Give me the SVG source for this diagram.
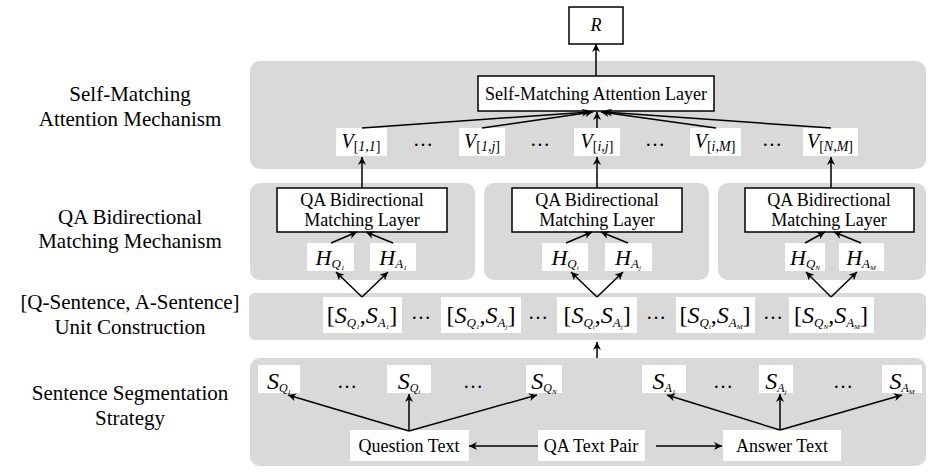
<svg xmlns="http://www.w3.org/2000/svg" width="932" height="472" viewBox="0 0 932 472">
<style>
text{font-family:"Liberation Serif","Times New Roman",serif;fill:#000}
.lbl{font-size:21px;text-anchor:middle}
.t{font-size:18px;text-anchor:middle}
.m{text-anchor:middle}
.i{font-style:italic}
.panel{fill:#d9d9d9}
.wb{fill:#fff}
.box{fill:#fff;stroke:#000;stroke-width:1.5}
.c{stroke:#000;stroke-width:1.5;fill:none;marker-end:url(#ah)}
.dots{font-size:20px;text-anchor:middle}
</style>
<defs>
<marker id="ah" viewBox="0 0 10 10" refX="10" refY="5" markerWidth="10" markerHeight="8" orient="auto" markerUnits="userSpaceOnUse">
<path d="M0,0 L10,5 L0,10 L3,5 z" fill="#000"/>
</marker>
</defs>

<g id="labels">
<text class="lbl" x="130" y="101">Self-Matching</text>
<text class="lbl" x="130" y="126">Attention Mechanism</text>
<text class="lbl" x="130" y="224">QA Bidirectional</text>
<text class="lbl" x="130" y="248">Matching Mechanism</text>
<text class="lbl" x="130" y="309">[Q-Sentence, A-Sentence]</text>
<text class="lbl" x="130" y="334">Unit Construction</text>
<text class="lbl" x="130" y="400">Sentence Segmentation</text>
<text class="lbl" x="130" y="425">Strategy</text>
</g>

<g id="panels">
<rect class="panel" x="250" y="61" width="676" height="108" rx="10"/>
<rect class="panel" x="250" y="183" width="225" height="97" rx="10"/>
<rect class="panel" x="484" y="183" width="225" height="97" rx="10"/>
<rect class="panel" x="718" y="183" width="208" height="97" rx="10"/>
<rect class="panel" x="249" y="293" width="677" height="47" rx="6"/>
<rect class="panel" x="250" y="358" width="676" height="108" rx="10"/>
</g>

<g id="R">
<rect class="box" x="569" y="7" width="54" height="37"/>
<text class="t i" x="596" y="31">R</text>
</g>

<g id="sma">
<rect class="box" x="478" y="76" width="236" height="35"/>
<text class="t" x="596" y="100">Self-Matching Attention Layer</text>
</g>

<g id="V11">
<rect class="wb" x="336" y="128" width="51" height="28"/>
<text class="m" x="361" y="148"><tspan class="i" font-size="20">V</tspan><tspan font-size="14" dy="3">[</tspan><tspan class="i" font-size="14">1</tspan><tspan font-size="14">,</tspan><tspan class="i" font-size="14">1</tspan><tspan font-size="14">]</tspan></text>
</g>
<g id="V1j">
<rect class="wb" x="459" y="128" width="46" height="28"/>
<text class="m" x="482" y="148"><tspan class="i" font-size="20">V</tspan><tspan font-size="14" dy="3">[</tspan><tspan class="i" font-size="14">1</tspan><tspan font-size="14">,</tspan><tspan class="i" font-size="14">j</tspan><tspan font-size="14">]</tspan></text>
</g>
<g id="Vij">
<rect class="wb" x="574" y="128" width="46" height="28"/>
<text class="m" x="597" y="148"><tspan class="i" font-size="20">V</tspan><tspan font-size="14" dy="3">[</tspan><tspan class="i" font-size="14">i</tspan><tspan font-size="14">,</tspan><tspan class="i" font-size="14">j</tspan><tspan font-size="14">]</tspan></text>
</g>
<g id="ViM">
<rect class="wb" x="690" y="128" width="51" height="28"/>
<text class="m" x="715" y="148"><tspan class="i" font-size="20">V</tspan><tspan font-size="14" dy="3">[</tspan><tspan class="i" font-size="14">i</tspan><tspan font-size="14">,</tspan><tspan class="i" font-size="14">M</tspan><tspan font-size="14">]</tspan></text>
</g>
<g id="VNM">
<rect class="wb" x="803" y="128" width="55" height="28"/>
<text class="m" x="830" y="148"><tspan class="i" font-size="20">V</tspan><tspan font-size="14" dy="3">[</tspan><tspan class="i" font-size="14">N</tspan><tspan font-size="14">,</tspan><tspan class="i" font-size="14">M</tspan><tspan font-size="14">]</tspan></text>
</g>
<g id="vdots">
<text class="dots" x="423" y="146">…</text>
<text class="dots" x="540" y="146">…</text>
<text class="dots" x="655" y="146">…</text>
<text class="dots" x="772" y="146">…</text>
</g>

<g id="qa1">
<rect class="box" x="277" y="188" width="170" height="44"/>
<text class="t" x="362" y="206">QA Bidirectional</text>
<text class="t" x="362" y="226">Matching Layer</text>
</g>
<g id="qa2">
<rect class="box" x="512" y="188" width="170" height="44"/>
<text class="t" x="597" y="206">QA Bidirectional</text>
<text class="t" x="597" y="226">Matching Layer</text>
</g>
<g id="qa3">
<rect class="box" x="745" y="188" width="169" height="44"/>
<text class="t" x="829" y="206">QA Bidirectional</text>
<text class="t" x="829" y="226">Matching Layer</text>
</g>

<g id="HQ1">
<rect class="wb" x="307" y="243" width="47" height="28"/>
<text class="m" x="330" y="265"><tspan class="i" font-size="22">H</tspan><tspan class="i" font-size="13" dy="3">Q</tspan><tspan class="i" font-size="7" dy="2">1</tspan></text>
</g>
<g id="HA1">
<rect class="wb" x="370" y="243" width="46" height="28"/>
<text class="m" x="393" y="265"><tspan class="i" font-size="22">H</tspan><tspan class="i" font-size="13" dy="3">A</tspan><tspan class="i" font-size="7" dy="2">1</tspan></text>
</g>
<g id="HQi">
<rect class="wb" x="542" y="243" width="46" height="28"/>
<text class="m" x="565" y="265"><tspan class="i" font-size="22">H</tspan><tspan class="i" font-size="13" dy="3">Q</tspan><tspan class="i" font-size="7" dy="2">i</tspan></text>
</g>
<g id="HAj">
<rect class="wb" x="605" y="243" width="47" height="28"/>
<text class="m" x="628" y="265"><tspan class="i" font-size="22">H</tspan><tspan class="i" font-size="13" dy="3">A</tspan><tspan class="i" font-size="7" dy="2">j</tspan></text>
</g>
<g id="HQN">
<rect class="wb" x="785" y="243" width="40" height="28"/>
<text class="m" x="805" y="265"><tspan class="i" font-size="22">H</tspan><tspan class="i" font-size="13" dy="3">Q</tspan><tspan class="i" font-size="7" dy="2">N</tspan></text>
</g>
<g id="HAM">
<rect class="wb" x="839" y="243" width="45" height="28"/>
<text class="m" x="861" y="265"><tspan class="i" font-size="22">H</tspan><tspan class="i" font-size="13" dy="3">A</tspan><tspan class="i" font-size="7" dy="2">M</tspan></text>
</g>

<g id="U1">
<rect class="wb" x="323" y="297" width="79" height="36"/>
<text class="m" x="362" y="323"><tspan font-size="24">[</tspan><tspan class="i" font-size="24">S</tspan><tspan class="i" font-size="13" dy="4">Q</tspan><tspan class="i" font-size="7" dy="2">1</tspan><tspan font-size="24" dy="-6">,</tspan><tspan class="i" font-size="24">S</tspan><tspan class="i" font-size="13" dy="4">A</tspan><tspan class="i" font-size="7" dy="2">1</tspan><tspan font-size="24" dy="-6">]</tspan></text>
</g>
<g id="U2">
<rect class="wb" x="441" y="297" width="80" height="36"/>
<text class="m" x="481" y="323"><tspan font-size="24">[</tspan><tspan class="i" font-size="24">S</tspan><tspan class="i" font-size="13" dy="4">Q</tspan><tspan class="i" font-size="7" dy="2">1</tspan><tspan font-size="24" dy="-6">,</tspan><tspan class="i" font-size="24">S</tspan><tspan class="i" font-size="13" dy="4">A</tspan><tspan class="i" font-size="7" dy="2">j</tspan><tspan font-size="24" dy="-6">]</tspan></text>
</g>
<g id="U3">
<rect class="wb" x="557" y="297" width="80" height="36"/>
<text class="m" x="597" y="323"><tspan font-size="24">[</tspan><tspan class="i" font-size="24">S</tspan><tspan class="i" font-size="13" dy="4">Q</tspan><tspan class="i" font-size="7" dy="2">i</tspan><tspan font-size="24" dy="-6">,</tspan><tspan class="i" font-size="24">S</tspan><tspan class="i" font-size="13" dy="4">A</tspan><tspan class="i" font-size="7" dy="2">j</tspan><tspan font-size="24" dy="-6">]</tspan></text>
</g>
<g id="U4">
<rect class="wb" x="676" y="297" width="79" height="36"/>
<text class="m" x="715" y="323"><tspan font-size="24">[</tspan><tspan class="i" font-size="24">S</tspan><tspan class="i" font-size="13" dy="4">Q</tspan><tspan class="i" font-size="7" dy="2">i</tspan><tspan font-size="24" dy="-6">,</tspan><tspan class="i" font-size="24">S</tspan><tspan class="i" font-size="13" dy="4">A</tspan><tspan class="i" font-size="7" dy="2">M</tspan><tspan font-size="24" dy="-6">]</tspan></text>
</g>
<g id="U5">
<rect class="wb" x="789" y="297" width="85" height="36"/>
<text class="m" x="831" y="323"><tspan font-size="24">[</tspan><tspan class="i" font-size="24">S</tspan><tspan class="i" font-size="13" dy="4">Q</tspan><tspan class="i" font-size="7" dy="2">N</tspan><tspan font-size="24" dy="-6">,</tspan><tspan class="i" font-size="24">S</tspan><tspan class="i" font-size="13" dy="4">A</tspan><tspan class="i" font-size="7" dy="2">M</tspan><tspan font-size="24" dy="-6">]</tspan></text>
</g>
<g id="udots">
<text class="dots" x="421" y="319">…</text>
<text class="dots" x="538" y="319">…</text>
<text class="dots" x="656" y="319">…</text>
<text class="dots" x="773" y="319">…</text>
</g>

<g id="SQ1">
<rect class="wb" x="258" y="365" width="42" height="28"/>
<text class="m" x="279" y="389"><tspan class="i" font-size="24">S</tspan><tspan class="i" font-size="12" dy="3">Q</tspan><tspan class="i" font-size="7" dy="2">1</tspan></text>
</g>
<g id="SQi">
<rect class="wb" x="387" y="365" width="44" height="28"/>
<text class="m" x="409" y="389"><tspan class="i" font-size="24">S</tspan><tspan class="i" font-size="12" dy="3">Q</tspan><tspan class="i" font-size="7" dy="2">i</tspan></text>
</g>
<g id="SQN">
<rect class="wb" x="526" y="365" width="36" height="28"/>
<text class="m" x="544" y="389"><tspan class="i" font-size="24">S</tspan><tspan class="i" font-size="12" dy="3">Q</tspan><tspan class="i" font-size="7" dy="2">N</tspan></text>
</g>
<g id="SA1">
<rect class="wb" x="642" y="365" width="44" height="28"/>
<text class="m" x="664" y="389"><tspan class="i" font-size="24">S</tspan><tspan class="i" font-size="12" dy="3">A</tspan><tspan class="i" font-size="7" dy="2">1</tspan></text>
</g>
<g id="SAj">
<rect class="wb" x="759" y="365" width="34" height="28"/>
<text class="m" x="776" y="389"><tspan class="i" font-size="24">S</tspan><tspan class="i" font-size="12" dy="3">A</tspan><tspan class="i" font-size="7" dy="2">j</tspan></text>
</g>
<g id="SAM">
<rect class="wb" x="882" y="365" width="40" height="28"/>
<text class="m" x="902" y="389"><tspan class="i" font-size="24">S</tspan><tspan class="i" font-size="12" dy="3">A</tspan><tspan class="i" font-size="7" dy="2">M</tspan></text>
</g>
<g id="sdots">
<text class="dots" x="347" y="388">…</text>
<text class="dots" x="473" y="388">…</text>
<text class="dots" x="723" y="388">…</text>
<text class="dots" x="843" y="388">…</text>
</g>

<g id="qtext">
<rect class="wb" x="350" y="430" width="119" height="31"/>
<text class="t" x="409" y="452">Question Text</text>
</g>
<g id="pair">
<rect class="wb" x="538" y="430" width="107" height="31"/>
<text class="t" x="591" y="452">QA Text Pair</text>
</g>
<g id="atext">
<rect class="wb" x="723" y="430" width="118" height="31"/>
<text class="t" x="782" y="452">Answer Text</text>
</g>

<g id="connectors">
<line class="c" x1="596" y1="76" x2="596" y2="44"/>
<line class="c" x1="362" y1="128" x2="590" y2="112"/>
<line class="c" x1="482" y1="128" x2="593" y2="112"/>
<line class="c" x1="597" y1="128" x2="597" y2="112"/>
<line class="c" x1="716" y1="128" x2="601" y2="112"/>
<line class="c" x1="831" y1="128" x2="604" y2="112"/>
<line class="c" x1="362" y1="188" x2="362" y2="157"/>
<line class="c" x1="597" y1="188" x2="597" y2="157"/>
<line class="c" x1="831" y1="188" x2="831" y2="157"/>
<line class="c" x1="331" y1="243" x2="357" y2="232"/>
<line class="c" x1="393" y1="243" x2="366" y2="232"/>
<line class="c" x1="566" y1="243" x2="592" y2="232"/>
<line class="c" x1="628" y1="243" x2="601" y2="232"/>
<line class="c" x1="805" y1="243" x2="825" y2="232"/>
<line class="c" x1="861" y1="243" x2="834" y2="232"/>
<line class="c" x1="362" y1="297" x2="336" y2="272"/>
<line class="c" x1="362" y1="297" x2="388" y2="272"/>
<line class="c" x1="597" y1="297" x2="571" y2="272"/>
<line class="c" x1="597" y1="297" x2="623" y2="272"/>
<line class="c" x1="831" y1="297" x2="806" y2="272"/>
<line class="c" x1="831" y1="297" x2="857" y2="272"/>
<line class="c" x1="597" y1="358" x2="597" y2="342"/>
<line class="c" x1="409" y1="431" x2="288" y2="395"/>
<line class="c" x1="409" y1="431" x2="409" y2="394"/>
<line class="c" x1="409" y1="431" x2="537" y2="395"/>
<line class="c" x1="780" y1="430" x2="667" y2="395"/>
<line class="c" x1="780" y1="430" x2="780" y2="394"/>
<line class="c" x1="780" y1="430" x2="902" y2="395"/>
<line class="c" x1="538" y1="446" x2="469" y2="446"/>
<line class="c" x1="656" y1="446" x2="722" y2="446"/>
</g>
</svg>
